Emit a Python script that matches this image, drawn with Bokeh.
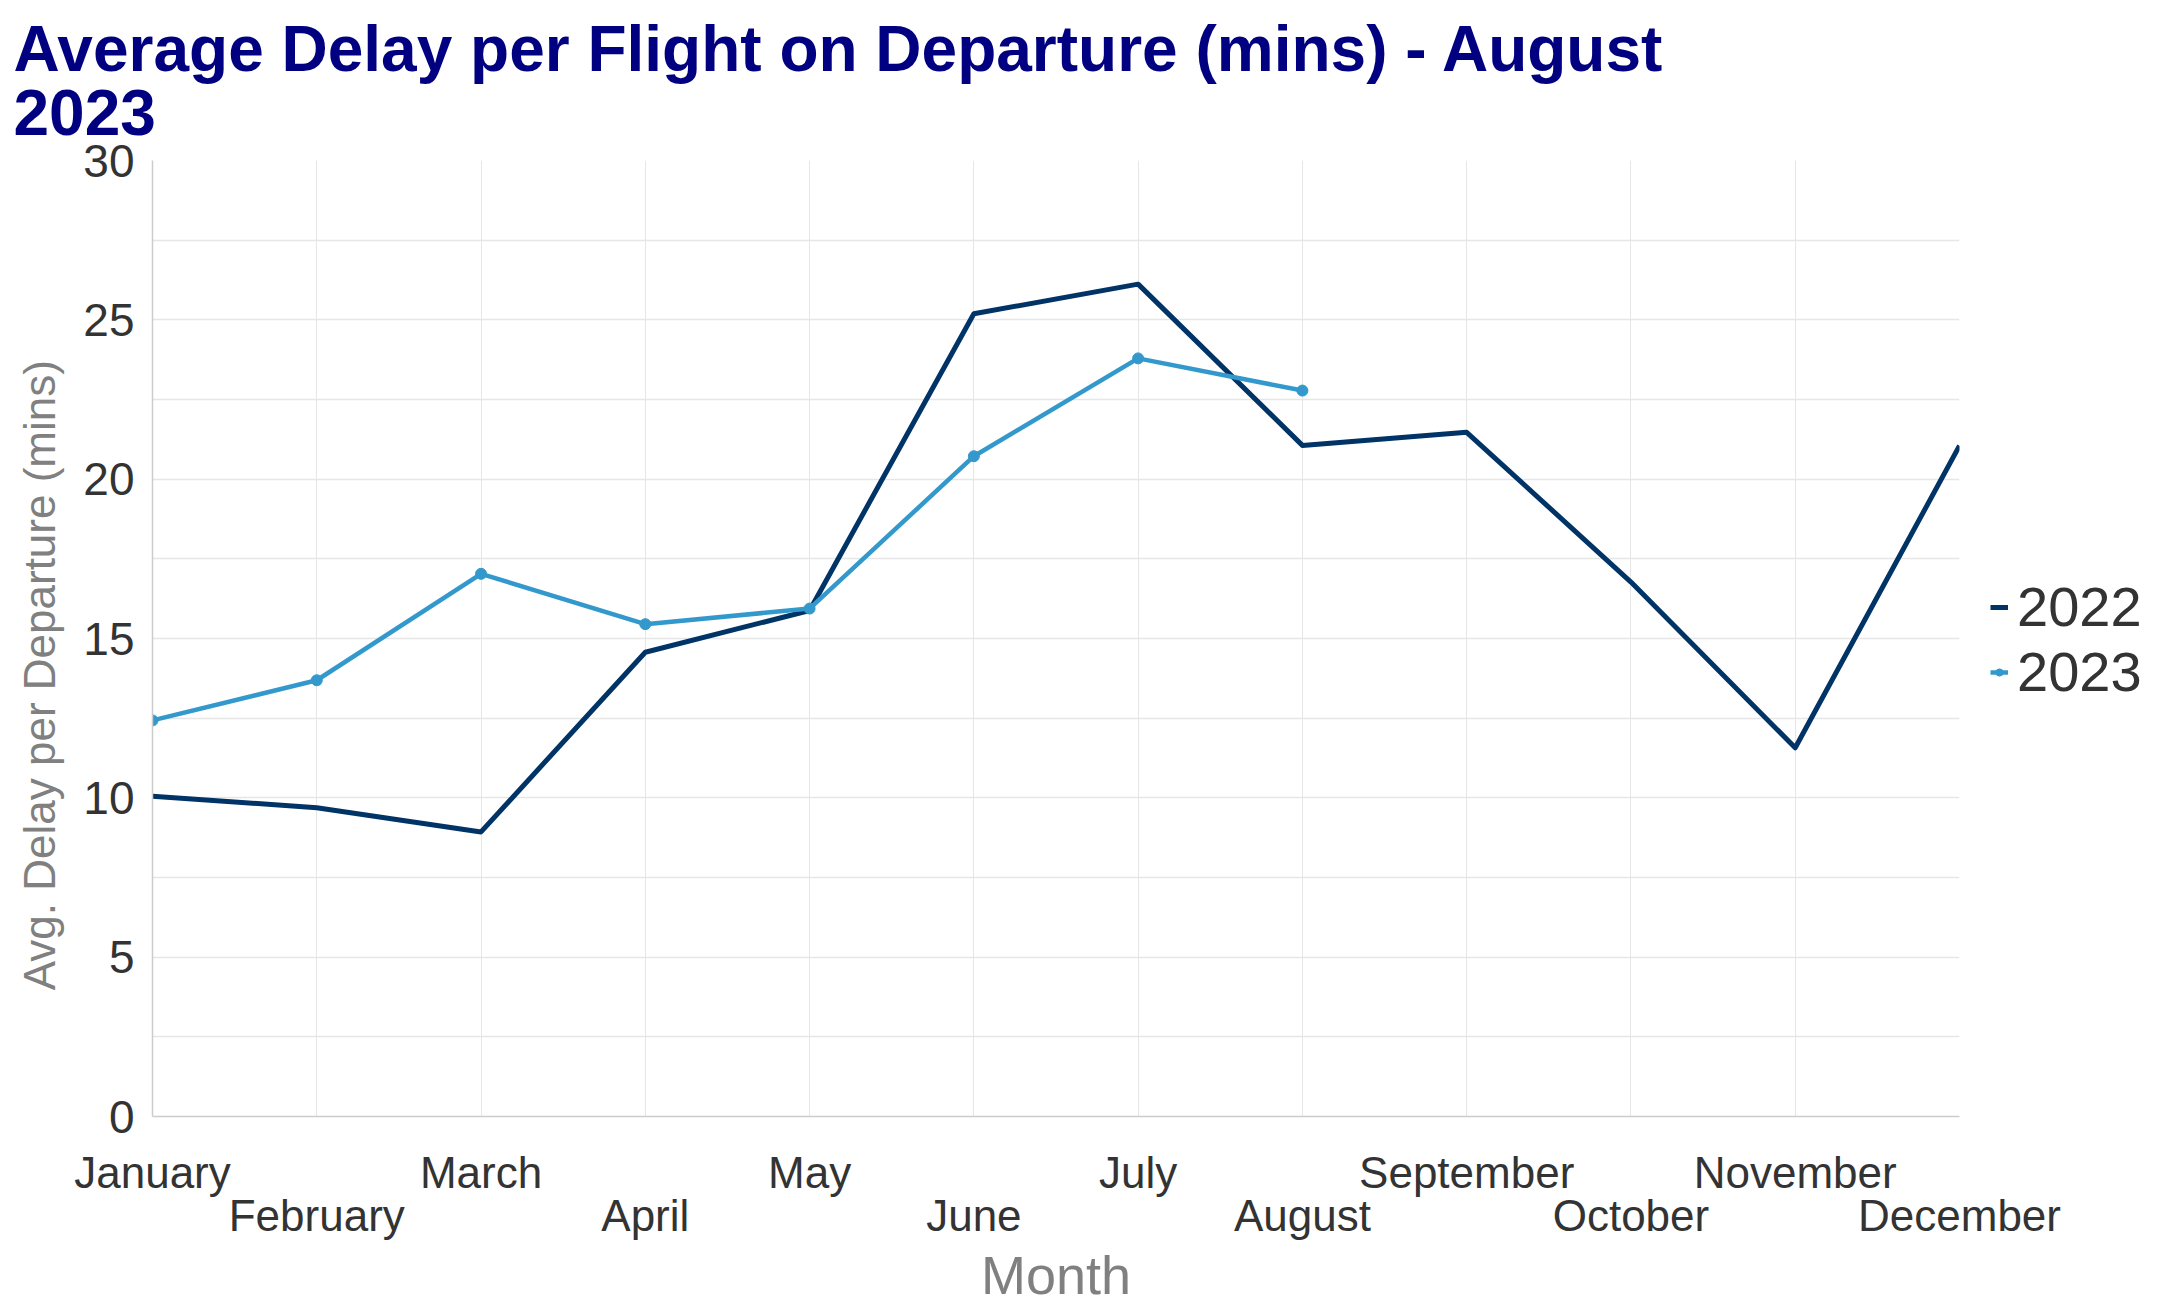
from bokeh.plotting import figure
from bokeh.models import (Range1d, FixedTicker, LinearAxis, Legend, LegendItem)
from bokeh.embed import file_html
from bokeh.resources import INLINE

months = ["January", "February", "March", "April", "May", "June", "July",
          "August", "September", "October", "November", "December"]
delay_2022 = [10.05, 9.69, 8.93, 14.57, 15.88, 25.19, 26.12, 21.06, 21.47, 16.77, 11.57, 21.05]
delay_2023 = [12.43, 13.69, 17.03, 15.45, 15.94, 20.72, 23.79, 22.78]
y_ticks = [0, 5, 10, 15, 20, 25, 30]
series_names = ["2022", "2023"]

FONT = "Liberation Sans"
C22 = "#003366"
C23 = "#3399cc"
GRID = "#e6e6e6"

idx = list(range(len(months)))
y_minor = [(a + b) / 2 for a, b in zip(y_ticks[:-1], y_ticks[1:])]

FW, FH = 1807, 956
p = figure(frame_width=FW, frame_height=FH,
           x_range=Range1d(idx[0], idx[-1]), y_range=Range1d(y_ticks[0], y_ticks[-1]),
           output_backend="svg", toolbar_location=None,
           min_border_left=152, min_border_right=200, min_border_top=150, min_border_bottom=100)
p.outline_line_color = None
p.background_fill_color = "white"

# title
p.title.text = "Average Delay per Flight on Departure (mins) - August\n2023"
p.title.text_font = FONT
p.title.text_font_size = "64px"
p.title.text_font_style = "bold"
p.title.text_color = "#000080"
p.title.align = "left"
p.title.offset = -139
p.title.standoff = 22
p.title.text_line_height = 0.89

# x axis (odd months on first row)
xa = p.xaxis[0]
xa.ticker = FixedTicker(ticks=idx[0::2])
xa.major_label_overrides = {i: months[i] for i in idx}
xa.major_label_text_font = FONT
xa.major_label_text_font_size = "44px"
xa.major_label_text_color = "#333333"
xa.major_tick_line_color = None
xa.minor_tick_line_color = None
xa.major_tick_out = 0
xa.major_label_standoff = 31
xa.axis_line_color = "#cccccc"
xa.axis_line_width = 1.5

# x axis (even months on second row) + axis title
xb = LinearAxis(ticker=FixedTicker(ticks=idx[1::2]),
                major_label_overrides={i: months[i] for i in idx},
                major_label_text_font=FONT, major_label_text_font_size="44px",
                major_label_text_color="#333333",
                major_tick_line_color=None, minor_tick_line_color=None,
                major_tick_out=0, major_label_standoff=-9, axis_line_color=None,
                axis_label="Month", axis_label_text_font=FONT,
                axis_label_text_font_size="54px", axis_label_text_font_style="normal",
                axis_label_text_color="#808080", axis_label_standoff=2)
p.add_layout(xb, "below")

p.xgrid.ticker = FixedTicker(ticks=idx)
p.xgrid.grid_line_color = GRID
p.xgrid.grid_line_width = 1

# y axis
ya = p.yaxis[0]
ya.ticker = FixedTicker(ticks=y_ticks, minor_ticks=y_minor)
ya.major_label_text_font = FONT
ya.major_label_text_font_size = "46px"
ya.major_label_text_color = "#333333"
ya.major_tick_line_color = None
ya.minor_tick_line_color = None
ya.major_tick_out = 0
ya.major_label_standoff = 14
ya.axis_line_color = "#cccccc"
ya.axis_line_width = 1.5
ya.axis_label = "Avg. Delay per Departure (mins)" + "\u00a0" * 6
ya.axis_label_text_font = FONT
ya.axis_label_text_font_size = "44px"
ya.axis_label_text_font_style = "normal"
ya.axis_label_text_color = "#808080"
ya.axis_label_standoff = 16

p.ygrid.grid_line_color = GRID
p.ygrid.minor_grid_line_color = GRID
p.ygrid.grid_line_width = 1.3
p.ygrid.minor_grid_line_width = 1.3

# data
l22 = p.line(idx, delay_2022, line_color=C22, line_width=5, line_join="round")
l23 = p.line(idx[:len(delay_2023)], delay_2023, line_color=C23, line_width=4.5, line_join="round")
s23 = p.scatter(idx[:len(delay_2023)], delay_2023, size=11, fill_color=C23, line_color=C23)

legend = Legend(items=[LegendItem(label=series_names[0], renderers=[l22]),
                       LegendItem(label=series_names[1], renderers=[l23, s23])],
                location=(31, FH / 2 - 66), orientation="vertical",
                label_text_font=FONT, label_text_font_size="56px", label_text_color="#333333",
                glyph_width=18, glyph_height=20, label_standoff=9, spacing=0,
                padding=0, margin=0, border_line_color=None, background_fill_alpha=0)
p.add_layout(legend, "right")

open("out.html", "w").write(file_html(p, INLINE))
